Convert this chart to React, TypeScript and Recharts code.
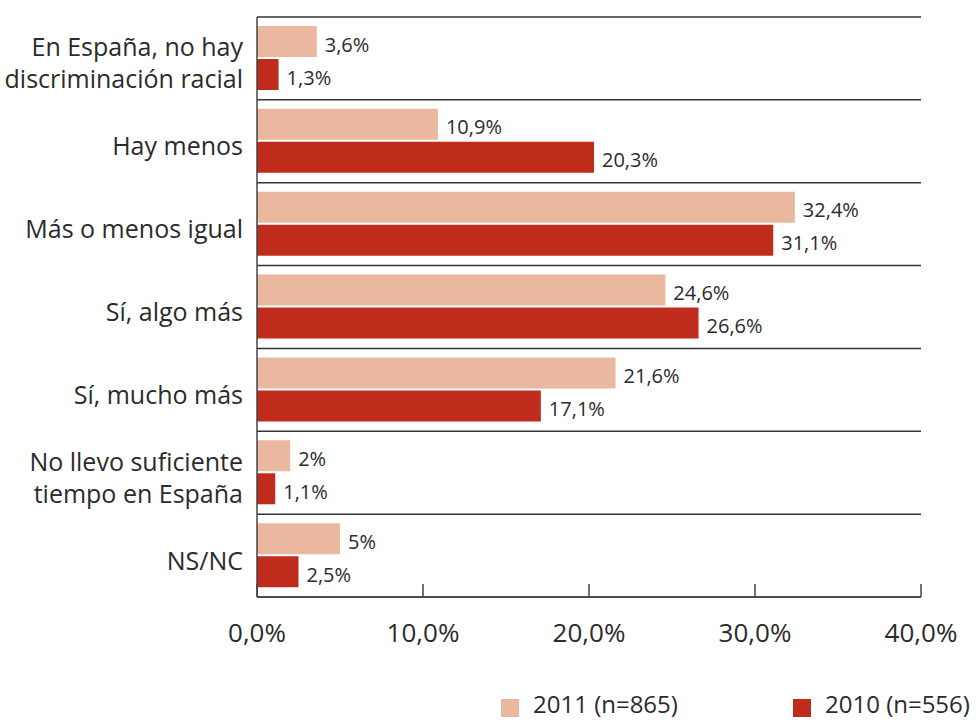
import React from "react";
import { BarChart, Bar, XAxis, YAxis, CartesianGrid, LabelList } from "recharts";

const categories: string[][] = [
  ["En España, no hay", "discriminación racial"],
  ["Hay menos"],
  ["Más o menos igual"],
  ["Sí, algo más"],
  ["Sí, mucho más"],
  ["No llevo suficiente", "tiempo en España"],
  ["NS/NC"],
];
const values2011 = [3.6, 10.9, 32.4, 24.6, 21.6, 2, 5];
const values2010 = [1.3, 20.3, 31.1, 26.6, 17.1, 1.1, 2.5];
const xTicks = [0, 10, 20, 30, 40];
const seriesNames = ["2011 (n=865)", "2010 (n=556)"];

const LIGHT = "#E9B89F";
const DARK = "#C02C1C";
const TEXT = "#2b2b2b";
const FONT = "'Open Sans', sans-serif";

const data = categories.map((c, i) => ({
  cat: c.join("\n"),
  v2011: values2011[i],
  v2010: values2010[i],
}));

const fmtPct = (v: number) => {
  const s = Number.isInteger(v) ? String(v) : v.toFixed(1);
  return s.replace(".", ",") + "%";
};

const YTick = (props: any) => {
  const { x, y, payload } = props;
  const lines = String(payload.value).split("\n");
  const lh = 32;
  const start = 14 - ((lines.length - 1) * lh) / 2;
  return (
    <text x={x} y={y} textAnchor="end" fill={TEXT} fontSize={25} fontFamily={FONT}>
      {lines.map((l, i) => (
        <tspan key={i} x={x} dy={i === 0 ? start : lh}>
          {l}
        </tspan>
      ))}
    </text>
  );
};

const XTick = (props: any) => {
  const { x, y, payload } = props;
  return (
    <g>
      <line x1={x} x2={x} y1={y - 13} y2={y} stroke="#444" strokeWidth={1.5} />
      <text x={x} y={y + 45} textAnchor="middle" fill={TEXT} fontSize={26} fontFamily={FONT}>
        {payload.value.toFixed(1).replace(".", ",") + "%"}
      </text>
    </g>
  );
};

const N = categories.length;

export default function App() {
  return (
    <div style={{ position: "absolute", left: 0, top: 0, width: 976, height: 722, background: "#fff" }}>
      <BarChart
        width={976}
        height={722}
        data={data}
        layout="vertical"
        margin={{ top: 17, right: 55, left: 0, bottom: 65 }}
        barSize={31}
        barGap={2}
      >
        <CartesianGrid
          vertical={false}
          stroke="#333"
          strokeWidth={1.5}
          horizontalCoordinatesGenerator={({ offset }: any) =>
            Array.from({ length: N + 1 }, (_, i) => offset.top + (i * offset.height) / N)
          }
        />
        <XAxis
          type="number"
          domain={[0, 40]}
          ticks={xTicks}
          height={60}
          tickSize={0}
          tickMargin={0}
          tickLine={false}
          axisLine={{ stroke: "#444", strokeWidth: 1.5 }}
          tick={<XTick />}
          interval={0}
        />
        <YAxis
          type="category"
          dataKey="cat"
          width={257}
          tickSize={0}
          tickMargin={14}
          tickLine={false}
          axisLine={{ stroke: "#444", strokeWidth: 1.5 }}
          tick={<YTick />}
          interval={0}
        />
        <Bar dataKey="v2011" fill={LIGHT} isAnimationActive={false}>
          <LabelList
            dataKey="v2011"
            position="right"
            offset={8}
            formatter={(v: any) => fmtPct(Number(v))}
            style={{ fill: TEXT, fontSize: 20, fontFamily: FONT, transform: "translateY(3px)" }}
          />
        </Bar>
        <Bar dataKey="v2010" fill={DARK} isAnimationActive={false}>
          <LabelList
            dataKey="v2010"
            position="right"
            offset={8}
            formatter={(v: any) => fmtPct(Number(v))}
            style={{ fill: TEXT, fontSize: 20, fontFamily: FONT, transform: "translateY(3px)" }}
          />
        </Bar>
      </BarChart>
      <div
        style={{
          position: "absolute",
          top: 688,
          left: 0,
          width: 976,
          height: 32,
          fontFamily: FONT,
          fontSize: 24,
          color: TEXT,
        }}
      >
        <div style={{ position: "absolute", left: 501, top: 11, width: 18, height: 18, background: LIGHT }} />
        <div style={{ position: "absolute", left: 533, top: 0, lineHeight: "32px", whiteSpace: "nowrap" }}>
          {seriesNames[0]}
        </div>
        <div style={{ position: "absolute", left: 793, top: 11, width: 18, height: 18, background: DARK }} />
        <div style={{ position: "absolute", left: 825, top: 0, lineHeight: "32px", whiteSpace: "nowrap" }}>
          {seriesNames[1]}
        </div>
      </div>
    </div>
  );
}
